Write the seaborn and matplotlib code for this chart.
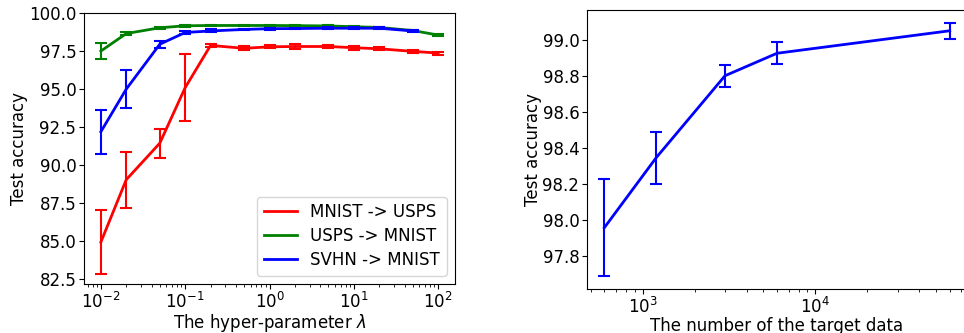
import numpy as np
import pandas as pd
import matplotlib
matplotlib.use("Agg")
import matplotlib.pyplot as plt
import seaborn as sns

# ---- data: left panel (hyper-parameter lambda) ----
lam = [0.01, 0.02, 0.05, 0.1, 0.2, 0.5, 1, 2, 5, 10, 20, 50, 100]
mnist_usps = [84.95, 89.05, 91.45, 95.1, 97.87, 97.68, 97.78, 97.8, 97.8, 97.72, 97.65, 97.48, 97.37]
mnist_usps_err = [2.1, 1.85, 0.95, 2.2, 0.12, 0.12, 0.1, 0.15, 0.08, 0.12, 0.1, 0.12, 0.1]
usps_mnist = [97.5, 98.65, 99.03, 99.16, 99.18, 99.18, 99.18, 99.17, 99.15, 99.1, 99.05, 98.85, 98.55]
usps_mnist_err = [0.55, 0.1, 0.05, 0.05, 0.04, 0.04, 0.04, 0.04, 0.04, 0.04, 0.04, 0.05, 0.05]
svhn_mnist = [92.2, 95.0, 97.95, 98.72, 98.82, 98.92, 98.97, 98.98, 99.0, 99.0, 99.0, 98.82]
svhn_mnist_err = [1.45, 1.25, 0.22, 0.1, 0.1, 0.06, 0.06, 0.05, 0.05, 0.05, 0.05, 0.06]
series_names = ["MNIST -> USPS", "USPS -> MNIST", "SVHN -> MNIST"]
series_colors = ["red", "green", "blue"]

# ---- data: right panel (number of target data) ----
n_target = [600, 1200, 3000, 6000, 60000]
acc_target = [97.955, 98.345, 98.80, 98.925, 99.05]
acc_target_err = [0.27, 0.145, 0.06, 0.06, 0.045]

plt.rcParams["font.family"] = ["DejaVu Sans"]
plt.rcParams["font.size"] = 12

fig = plt.figure(figsize=(9.64, 3.33), dpi=100)
ax1 = fig.add_axes([84 / 964, 1 - 284 / 333, (455 - 84) / 964, (284 - 13) / 333])
ax2 = fig.add_axes([587 / 964, 1 - 289 / 333, (967 - 587) / 964, (289 - 10) / 333])

# left panel
ys = [mnist_usps, usps_mnist, svhn_mnist]
es = [mnist_usps_err, usps_mnist_err, svhn_mnist_err]
for name, col, y, e in zip(series_names, series_colors, ys, es):
    x = lam[:len(y)]
    df = pd.DataFrame({"lam": x, "acc": y})
    sns.lineplot(data=df, x="lam", y="acc", ax=ax1, color=col, linewidth=2, label=name)
    ax1.errorbar(x, y, yerr=e, fmt="none", ecolor=col, elinewidth=1.5, capsize=4, capthick=1.5)

ax1.set_xscale("log")
ax1.set_ylim(82.2, 100.0)
ax1.set_yticks([82.5, 85.0, 87.5, 90.0, 92.5, 95.0, 97.5, 100.0])
ax1.set_yticklabels(["82.5", "85.0", "87.5", "90.0", "92.5", "95.0", "97.5", "100.0"])
ax1.set_xlabel(r"The hyper-parameter $\lambda$", fontsize=12, labelpad=0)
ax1.set_ylabel("Test accuracy", fontsize=12, labelpad=1)
ax1.legend(loc="lower right", fontsize=12, frameon=True, labelspacing=0.35)

# right panel
df2 = pd.DataFrame({"n": n_target, "acc": acc_target})
sns.lineplot(data=df2, x="n", y="acc", ax=ax2, color="blue", linewidth=2)
ax2.errorbar(n_target, acc_target, yerr=acc_target_err, fmt="none", ecolor="blue",
             elinewidth=1.5, capsize=4, capthick=1.5)
ax2.set_xscale("log")
ax2.set_yticks([97.8, 98.0, 98.2, 98.4, 98.6, 98.8, 99.0])
ax2.set_yticklabels(["97.8", "98.0", "98.2", "98.4", "98.6", "98.8", "99.0"])
ax2.set_xlabel("The number of the target data", fontsize=12, labelpad=0)
ax2.set_ylabel("Test accuracy", fontsize=12, labelpad=0)

for ax in (ax1, ax2):
    ax.tick_params(labelsize=12, pad=2)

fig.savefig("out.png", dpi=100)
